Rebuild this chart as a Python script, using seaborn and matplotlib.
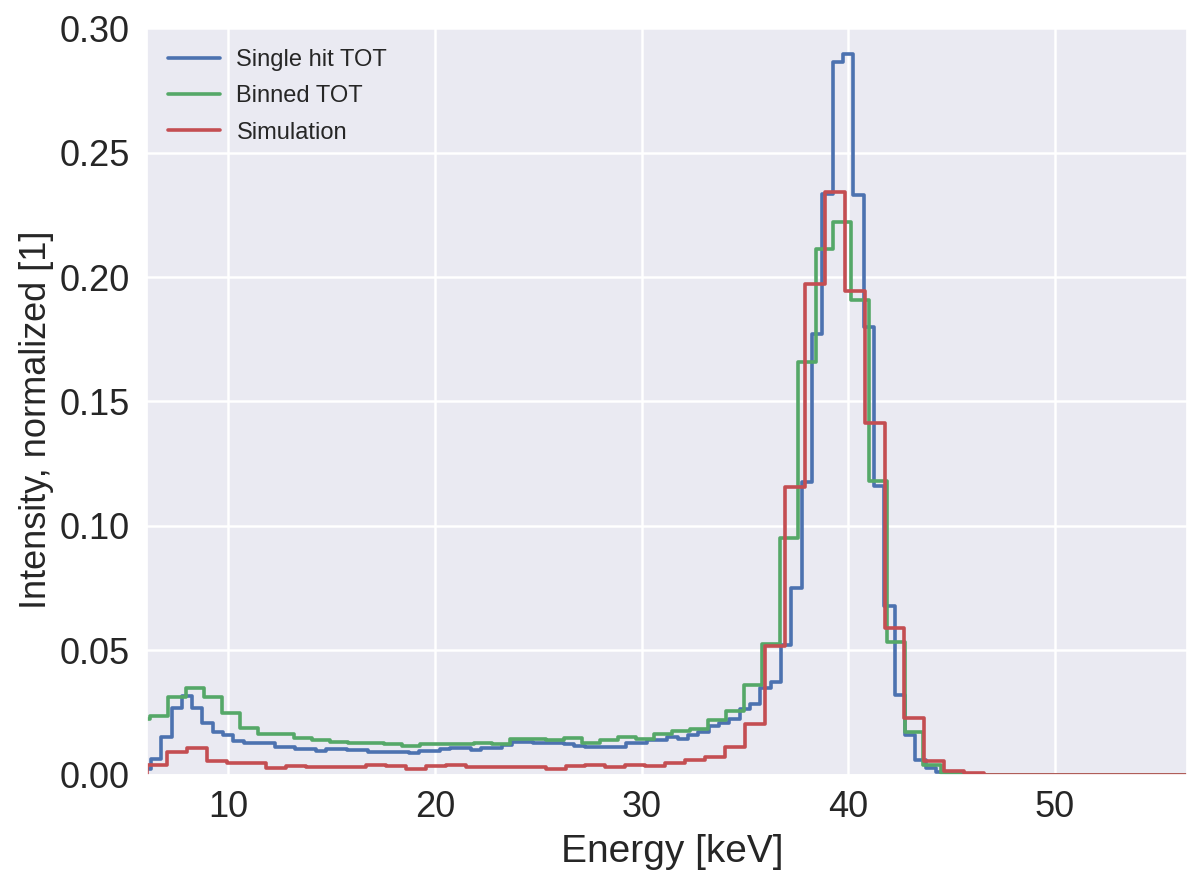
import numpy as np
import pandas as pd
import matplotlib
matplotlib.use("Agg")
import matplotlib.pyplot as plt
import seaborn as sns

# Energy spectra (normalized intensity per bin), one histogram per method.
# Single hit TOT: 0.5 keV bins starting at 5.75 keV
single_start = 5.75
single_width = 0.5
single_hit_tot = [
    0.0022, 0.0064, 0.0152, 0.0270, 0.0316, 0.0268, 0.0208, 0.0174, 0.0161, 0.0137,
    0.0128, 0.0128, 0.0128, 0.0114, 0.0114, 0.0104, 0.0103, 0.0098, 0.0106, 0.0106,
    0.0100, 0.0100, 0.0094, 0.0094, 0.0094, 0.0094, 0.0088, 0.0098, 0.0098, 0.0104,
    0.0107, 0.0107, 0.0101, 0.0107, 0.0107, 0.0121, 0.0134, 0.0134, 0.0128, 0.0128,
    0.0128, 0.0125, 0.0117, 0.0111, 0.0111, 0.0111, 0.0111, 0.0130, 0.0130, 0.0141,
    0.0141, 0.0152, 0.0144, 0.0161, 0.0174, 0.0195, 0.0208, 0.0224, 0.0265, 0.0285,
    0.0349, 0.0373, 0.0523, 0.0752, 0.1177, 0.1771, 0.2335, 0.2865, 0.2894, 0.2328,
    0.1798, 0.1161, 0.0680, 0.0322, 0.0161, 0.0060, 0.0027, 0.0013, 0.0006, 0.0003,
    0.0, 0.0, 0.0, 0.0, 0.0, 0.0, 0.0, 0.0, 0.0, 0.0,
    0.0, 0.0, 0.0, 0.0, 0.0, 0.0, 0.0, 0.0, 0.0, 0.0,
    0.0, 0.0,
]

# Binned TOT: 0.87 keV bins starting at 5.36 keV
binned_start = 5.36
binned_width = 0.87
binned_tot = [
    0.0224, 0.0238, 0.0313, 0.0348, 0.0315, 0.0248, 0.0188, 0.0165, 0.0165, 0.0148,
    0.0141, 0.0132, 0.0130, 0.0128, 0.0124, 0.0117, 0.0124, 0.0125, 0.0125, 0.0130,
    0.0125, 0.0145, 0.0145, 0.0141, 0.0148, 0.0130, 0.0141, 0.0152, 0.0146, 0.0165,
    0.0178, 0.0184, 0.0221, 0.0258, 0.0360, 0.0527, 0.0953, 0.1657, 0.2111, 0.2221,
    0.1906, 0.1181, 0.0533, 0.0174, 0.0040, 0.0008,
    0.0, 0.0, 0.0, 0.0, 0.0, 0.0, 0.0, 0.0, 0.0, 0.0, 0.0, 0.0, 0.0,
]

# Simulation: 0.965 keV bins starting at 5.09 keV
sim_start = 5.09
sim_width = 0.965
simulation = [
    0.0,
    0.0040, 0.0094, 0.0107, 0.0056, 0.0050, 0.0047, 0.0028, 0.0037, 0.0031, 0.0031,
    0.0031, 0.0040, 0.0035, 0.0024, 0.0035, 0.0040, 0.0031, 0.0031, 0.0031, 0.0031,
    0.0025, 0.0034, 0.0039, 0.0031, 0.0041, 0.0036, 0.0050, 0.0060, 0.0074, 0.0114,
    0.0205, 0.0517, 0.1156, 0.1970, 0.2342, 0.1945, 0.1413, 0.0590, 0.0228, 0.0056,
    0.0017, 0.0007,
    0.0, 0.0, 0.0, 0.0, 0.0, 0.0, 0.0, 0.0, 0.0, 0.0, 0.0,
]

labels = ["Single hit TOT", "Binned TOT", "Simulation"]
colors = ["#4C72B0", "#55A868", "#C44E52"]

x_ticks = [10, 20, 30, 40, 50]
y_ticks = [0.00, 0.05, 0.10, 0.15, 0.20, 0.25, 0.30]

sns.set_theme(style="darkgrid")
plt.rcParams["font.family"] = ["Liberation Sans", "DejaVu Sans"]

fig = plt.figure(figsize=(11.87, 8.73), dpi=100)
ax = fig.add_axes([0.1236, 0.1123, 0.8764, 0.8556])


def draw_spectrum(values, start, width, color, label):
    values = np.asarray(values, dtype=float)
    edges = start + width * np.arange(len(values) + 1)
    frame = pd.DataFrame({"energy": edges[:-1] + width / 2, "intensity": values})
    sns.histplot(
        data=frame, x="energy", weights="intensity", bins=edges.tolist(),
        element="step", fill=False, color=color, linewidth=2.6,
        label=label, ax=ax,
    )


draw_spectrum(single_hit_tot, single_start, single_width, colors[0], labels[0])
draw_spectrum(binned_tot, binned_start, binned_width, colors[1], labels[1])
draw_spectrum(simulation, sim_start, sim_width, colors[2], labels[2])

ax.set_xlim(6.05, 56.4)
ax.set_ylim(0.0, 0.30)
ax.set_xticks(x_ticks)
ax.set_yticks(y_ticks)
ax.set_yticklabels([f"{v:.2f}" for v in y_ticks])
ax.grid(True, color="white", linewidth=1.8)
ax.tick_params(axis="both", length=0, labelsize=26, colors="#262626")
ax.tick_params(axis="x", pad=11)
ax.tick_params(axis="y", pad=12)

ax.set_xlabel("Energy [keV]", fontsize=28, color="#262626")
ax.set_ylabel("Intensity, normalized [1]", fontsize=26, color="#262626")
ax.xaxis.set_label_coords(0.505, -0.079)
ax.yaxis.set_label_coords(-0.089, 0.475)

ax.legend(loc="upper left", frameon=False, fontsize=17, handlelength=2.2,
          handletextpad=0.7, labelspacing=0.6)

fig.savefig("out.png", dpi=100)
